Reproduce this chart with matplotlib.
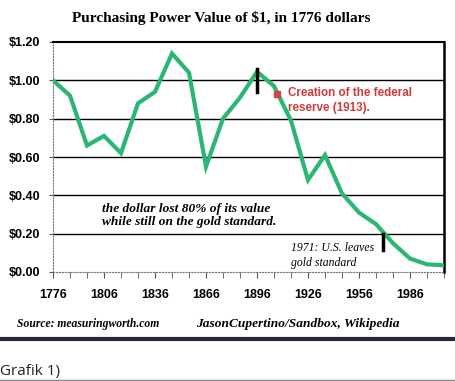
import numpy as np
import matplotlib
matplotlib.use("Agg")
from matplotlib import pyplot as plt

years = list(range(1776, 2007, 10))
values = [1.00, 0.92, 0.66, 0.71, 0.62, 0.88, 0.94, 1.14, 1.04, 0.55,
          0.80, 0.91, 1.045, 0.97, 0.79, 0.48, 0.61, 0.41, 0.31, 0.25,
          0.15, 0.07, 0.04, 0.035]
major_years = list(range(1776, 1987, 30))
y_ticks = [0.0, 0.2, 0.4, 0.6, 0.8, 1.0, 1.2]
y_labels = ["$0.00", "$0.20", "$0.40", "$0.60", "$0.80", "$1.00", "$1.20"]

fig = plt.figure(figsize=(4.55, 3.81), dpi=100)
ax = fig.add_axes([53 / 455, 1 - 272 / 381, 391 / 455, 230 / 381])

for v in y_ticks[1:-1]:
    ax.axhline(v, color="black", lw=1, zorder=1)

ax.plot(years, values, color="#2bb673", lw=3, solid_joinstyle="miter", zorder=3)

# markers
ax.plot([1896, 1896], [0.94, 1.06], color="black", lw=2.5, zorder=4)
ax.plot([1970, 1970], [0.115, 0.20], color="black", lw=2.5, zorder=4)
ax.plot([1908], [0.93], marker="s", ms=5, color="#d64545", zorder=4)

ax.text(1914, 0.895, "Creation of the federal\nreserve (1913).", color="#cc3b3b",
        fontsize=8.4, fontweight="bold", family="Liberation Sans",
        va="center", ha="left", linespacing=1.25)
ax.text(1805, 0.295, "the dollar lost 80% of its value\nwhile still on the gold standard.",
        fontsize=9.6, style="italic", fontweight="bold", family="Liberation Serif",
        va="center", ha="left", linespacing=1.15)
ax.text(1916, 0.086, "1971: U.S. leaves\ngold standard",
        fontsize=8.5, style="italic", family="Liberation Serif",
        va="center", ha="left", linespacing=1.3)

ax.set_xlim(1776, 2006)
ax.set_ylim(0, 1.2)
ax.set_xticks(major_years)
ax.set_xticks(years, minor=True)
ax.set_yticks(y_ticks)
ax.set_yticklabels(y_labels)
for lab in ax.get_xticklabels() + ax.get_yticklabels():
    lab.set_family("Liberation Sans")
    lab.set_fontweight("bold")
    lab.set_fontsize(9)
ax.tick_params(axis="x", which="both", direction="out", length=4, pad=8, color="#555555")
ax.tick_params(axis="y", direction="out", length=3, pad=6, color="#555555")

ax.spines["top"].set_linewidth(1.5)
ax.spines["right"].set_linewidth(1.8)
ax.spines["left"].set_color("#777777")
ax.spines["left"].set_linestyle(":")
ax.spines["bottom"].set_color("#777777")
ax.spines["bottom"].set_linestyle(":")

fig.text(221 / 455, 1 - 18 / 381, "Purchasing Power Value of $1, in 1776 dollars",
         ha="center", va="center", fontsize=11, fontweight="bold", family="Liberation Serif")
fig.text(17 / 455, 1 - 324 / 381, "Source: measuringworth.com", ha="left", va="center",
         fontsize=8.4, style="italic", fontweight="bold", family="Liberation Serif")
fig.text(196 / 455, 1 - 324 / 381, "JasonCupertino/Sandbox, Wikipedia", ha="left", va="center",
         fontsize=9.6, style="italic", fontweight="bold", family="Liberation Serif")

# bottom border of the picture and caption
fig.add_artist(plt.Line2D([0, 1], [1 - 338.5 / 381] * 2, color="#262636", lw=3))
fig.text(0, 1 - 371 / 381, "Grafik 1)", ha="left", va="center",
         fontsize=11, family="Open Sans", color="#222222")
fig.add_artist(plt.Line2D([0, 1], [1 - 380 / 381] * 2, color="#888888", lw=1))

fig.savefig("out.png", dpi=100)
